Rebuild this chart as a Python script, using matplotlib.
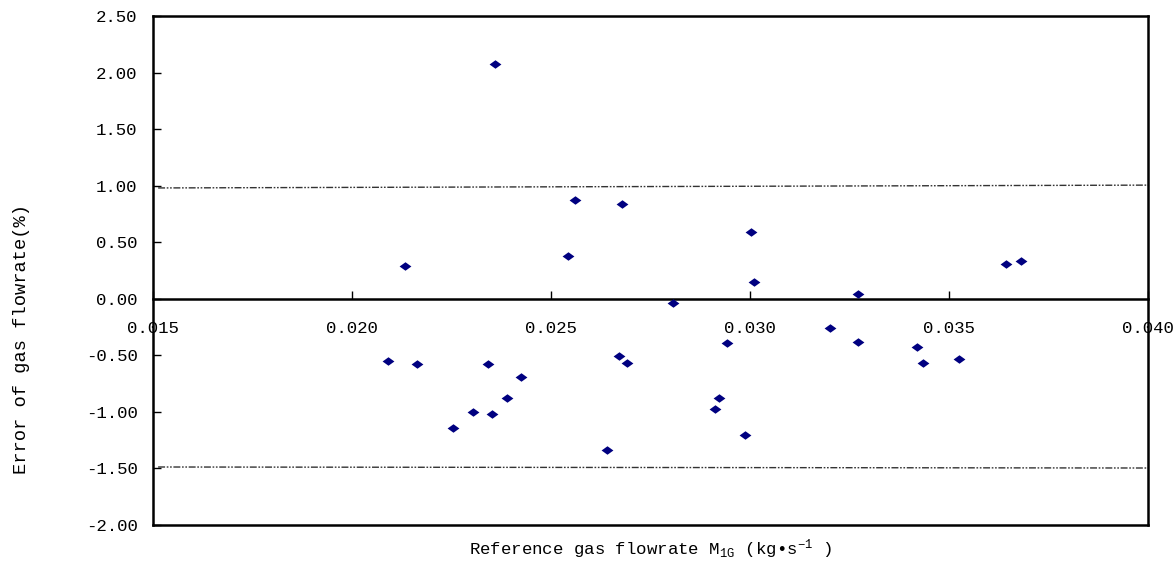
import matplotlib
matplotlib.use("Agg")
import matplotlib.pyplot as plt
from matplotlib.path import Path
from matplotlib.ticker import FormatStrFormatter, MultipleLocator

# reference gas flowrate (kg/s) and relative error (%)
flow_rate = [0.02359, 0.02133, 0.02543, 0.02560, 0.02678, 0.03003, 0.03010,
             0.02807, 0.03271, 0.03643, 0.03681,
             0.02090, 0.02163, 0.02254, 0.02304, 0.02342, 0.02352, 0.02389,
             0.02425, 0.02641, 0.02671, 0.02691, 0.02912, 0.02922, 0.02942,
             0.02987, 0.03201, 0.03271, 0.03420, 0.03435, 0.03525]
error_pct = [2.08, 0.29, 0.38, 0.87, 0.84, 0.59, 0.15,
             -0.04, 0.04, 0.31, 0.33,
             -0.55, -0.58, -1.14, -1.00, -0.58, -1.02, -0.88,
             -0.69, -1.34, -0.51, -0.57, -0.97, -0.88, -0.39,
             -1.20, -0.26, -0.38, -0.43, -0.57, -0.53]

# error band limits
limit_x = [0.01513, 0.040]
upper_limit = [0.98, 1.005]
lower_limit = [-1.487, -1.496]

plt.rcParams['font.family'] = ['Liberation Mono', 'DejaVu Sans']
plt.rcParams['mathtext.fontset'] = 'custom'
plt.rcParams['mathtext.rm'] = 'Liberation Mono'
plt.rcParams['mathtext.it'] = 'Liberation Mono'

fig = plt.figure(figsize=(11.73, 5.62), dpi=100)
ax = fig.add_axes([0.1304, 0.0658, 0.8483, 0.9057])

diamond = Path([(-1, 0), (0, 0.72), (1, 0), (0, -0.72), (-1, 0)],
               [Path.MOVETO, Path.LINETO, Path.LINETO, Path.LINETO, Path.CLOSEPOLY])
ax.plot(flow_rate, error_pct, linestyle='none', marker=diamond, markersize=8.5,
        color='#000080', markeredgewidth=0, zorder=3)

dashdot = (0, (5, 1.2, 1.2, 1.2, 1.2, 1.2))
ax.plot(limit_x, upper_limit, color='#333333', lw=1, linestyle=dashdot)
ax.plot(limit_x, lower_limit, color='#333333', lw=1, linestyle=dashdot)

ax.set_xlim(0.015, 0.040)
ax.set_ylim(-2.0, 2.5)

# x axis runs through zero, box frame around the plot
ax.spines['bottom'].set_position(('data', 0))
for s in ax.spines.values():
    s.set_linewidth(1.8)
ax.axhline(-2.0, color='black', lw=1.8, clip_on=False)

ax.xaxis.set_major_locator(MultipleLocator(0.005))
ax.xaxis.set_major_formatter(FormatStrFormatter('%.3f'))
ax.yaxis.set_major_locator(MultipleLocator(0.5))
ax.yaxis.set_major_formatter(FormatStrFormatter('%.2f'))
ax.tick_params(axis='x', direction='in', length=6, width=1, pad=16, labelsize=12.5)
ax.tick_params(axis='y', direction='in', length=6, width=1, pad=11, labelsize=12.5)

ax.set_ylabel('Error of gas flowrate(%)', fontsize=13.5)
ax.yaxis.set_label_coords(-0.124, 0.365)
ax.set_xlabel(r'Reference gas flowrate M$_{\mathrm{1G}}$ (kg•s$^{-1}$ )', fontsize=12.5)
ax.xaxis.set_label_coords(0.5, -0.025)

fig.savefig('out.png', dpi=100)
